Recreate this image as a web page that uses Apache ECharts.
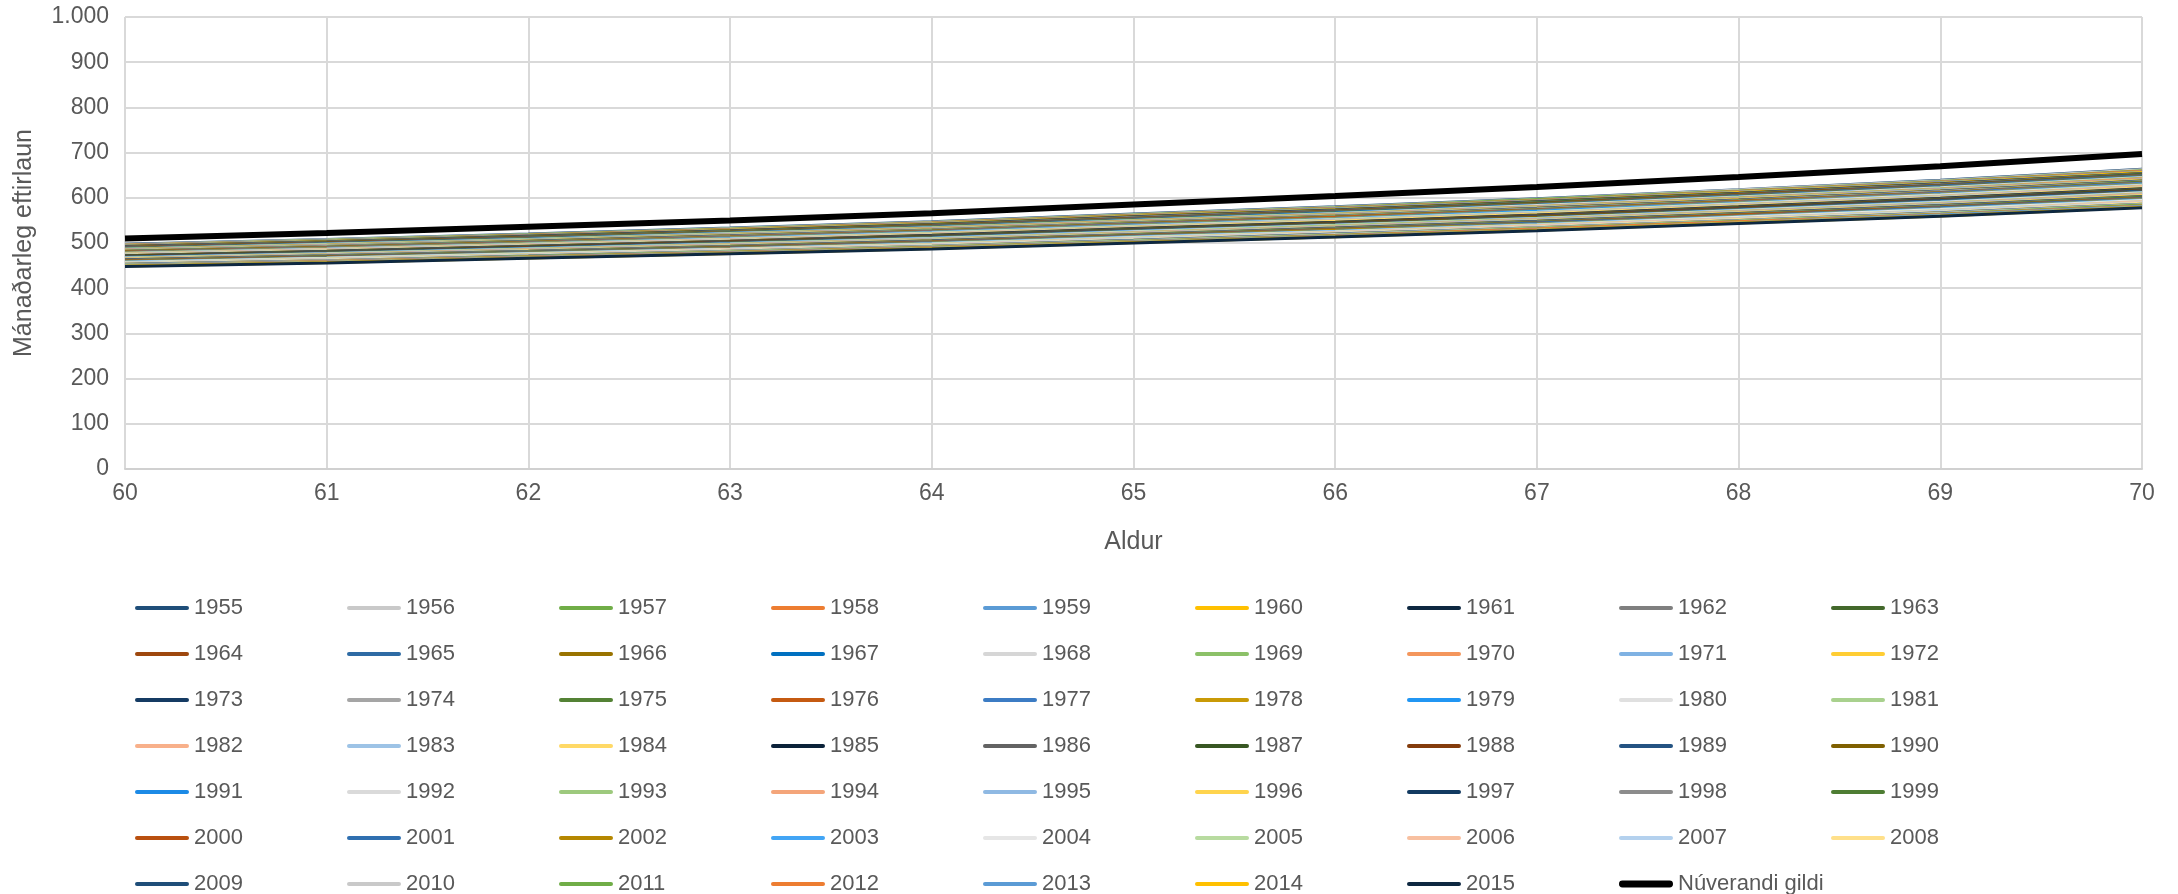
<!DOCTYPE html>
<html>
<head>
<meta charset="utf-8">
<script src="https://cdn.jsdelivr.net/npm/echarts@6/dist/echarts.min.js"></script>
<style>html,body{margin:0;padding:0;background:#fff;}#chart{width:2178px;height:894px;}</style>
</head>
<body>
<div id="chart"></div>
<script>
// Ages on the x axis
const ages = [60, 61, 62, 63, 64, 65, 66, 67, 68, 69, 70];
// Birth cohorts (series names)
const cohorts = [];
for (let y = 1955; y <= 2015; y++) cohorts.push(String(y));
// Values per age, one entry per cohort 1955..2015
const v60 = [497,496,495,495,494,493,492,491,490,490, 489,488,487,486,486,485,484,483,482,481, 481,480,479,478,477,477,476,475,474,473, 472,472,471,470,469,468,468,467,466,465, 464,464,463,462,461,460,459,459,458,457, 456,455,455,454,453,452,451,450,450,449,448];
const v61 = [508,507,506,505,505,504,503,502,501,500, 499,498,498,497,496,495,494,493,492,492, 491,490,489,488,487,486,485,485,484,483, 482,481,480,479,479,478,477,476,475,474, 473,472,472,471,470,469,468,467,466,466, 465,464,463,462,461,460,459,459,458,457,456];
const v62 = [520,519,518,517,516,515,515,514,513,512, 511,510,509,508,507,506,506,505,504,503, 502,501,500,499,498,497,497,496,495,494, 493,492,491,490,489,488,488,487,486,485, 484,483,482,481,480,479,479,478,477,476, 475,474,473,472,471,470,470,469,468,467,466];
const v63 = [533,532,531,530,529,528,527,526,525,524, 523,523,522,521,520,519,518,517,516,515, 514,513,512,511,510,509,508,507,506,505, 504,504,503,502,501,500,499,498,497,496, 495,494,493,492,491,490,489,488,487,486, 485,485,484,483,482,481,480,479,478,477,476];
const v64 = [547,546,545,544,543,542,541,540,539,538, 537,536,535,534,533,532,531,530,529,528, 527,526,525,524,523,522,521,520,519,518, 517,516,515,514,513,512,511,510,509,508, 507,506,505,504,503,502,501,500,499,498, 497,496,495,494,493,492,491,490,489,488,487];
const v65 = [564,563,562,561,560,559,558,557,555,554, 553,552,551,550,549,548,547,546,545,544, 543,542,541,539,538,537,536,535,534,533, 532,531,530,529,528,527,526,525,523,522, 521,520,519,518,517,516,515,514,513,512, 511,510,509,507,506,505,504,503,502,501,500];
const v66 = [580,579,578,577,576,574,573,572,571,570, 569,568,567,565,564,563,562,561,560,559, 558,557,555,554,553,552,551,550,549,548, 546,545,544,543,542,541,540,539,538,536, 535,534,533,532,531,530,529,528,526,525, 524,523,522,521,520,519,517,516,515,514,513];
const v67 = [598,597,596,594,593,592,591,590,589,587, 586,585,584,583,581,580,579,578,577,576, 574,573,572,571,570,568,567,566,565,564, 562,561,560,559,558,557,555,554,553,552, 551,549,548,547,546,545,544,542,541,540, 539,538,536,535,534,533,532,531,529,528,527];
const v68 = [618,617,615,614,613,612,610,609,608,607, 605,604,603,602,600,599,598,597,595,594, 593,592,590,589,588,587,585,584,583,582, 580,579,578,577,575,574,573,572,570,569, 568,567,565,564,563,562,560,559,558,557, 555,554,553,552,550,549,548,547,545,544,543];
const v69 = [639,638,636,635,634,632,631,630,628,627, 626,624,623,622,620,619,618,616,615,614, 612,611,610,608,607,606,604,603,602,600, 599,598,596,595,594,592,591,590,588,587, 586,584,583,582,580,579,578,576,575,574, 572,571,570,568,567,566,564,563,562,560,559];
const v70 = [663,662,660,659,657,656,654,653,652,650, 649,647,646,645,643,642,640,639,637,636, 635,633,632,630,629,628,626,625,623,622, 620,619,618,616,615,613,612,611,609,608, 606,605,603,602,601,599,598,596,595,594, 592,591,589,588,586,585,584,582,581,579,578];
// Current values (black line)
const currentName = 'Núverandi gildi';
const current = [510, 522, 536, 550, 566, 585, 604, 624, 646, 670, 697];
// Y tick values
const yTicks = [0, 100, 200, 300, 400, 500, 600, 700, 800, 900, 1000];

const byAge = [v60, v61, v62, v63, v64, v65, v66, v67, v68, v69, v70];

const palette = [
 '#1F4E79','#C9C9C9','#70AD47','#ED7D31','#5B9BD5','#FFC000',
 '#0E2841','#7F7F7F','#43682B','#9E480E','#2E6BA4','#997300',
 '#0070C0','#D6D6D6','#8CC168','#F4965C','#7FB2E3','#FFCD33',
 '#153B63','#A5A5A5','#548235','#C55A11','#3C7CC4','#C99A06',
 '#2196F3','#E0E0E0','#A9D18E','#F8B08A','#9DC3E6','#FFD966',
 '#0B2239','#636363','#385723','#843C0C','#245382','#7F6000',
 '#1C8AE6','#DADADA','#9DC97D','#F4A57A','#8FB9E3','#FFD44D',
 '#123A61','#8C8C8C','#4E7D33','#B9500F','#2F6FB0','#B58700',
 '#42A5F5','#E6E6E6','#B8DBA0','#F8C0A0','#B4D1EE','#FFE08A'];

const FONT = '"Liberation Sans", Arial, sans-serif';
const TXT = '#595959';

const series = cohorts.map((name, k) => ({
  name: name,
  type: 'line',
  data: ages.map((a, i) => [a, byAge[i][k]]),
  symbol: 'none',
  lineStyle: { width: 3, color: palette[k % palette.length] },
  itemStyle: { color: palette[k % palette.length] },
  animation: false,
  z: 2
}));
series.push({
  name: currentName,
  type: 'line',
  data: ages.map((a, i) => [a, current[i]]),
  symbol: 'none',
  lineStyle: { width: 6, color: '#000000' },
  itemStyle: { color: '#000000' },
  animation: false,
  z: 3
});

const legendData = series.map(s => ({
  name: s.name,
  icon: s.name === currentName ? 'path://M3,0 L51,0 A3.5,3.5 0 0 1 51,7 L3,7 A3.5,3.5 0 0 1 3,0 Z'
                               : 'path://M2,0 L52,0 A2,2 0 0 1 52,4 L2,4 A2,2 0 0 1 2,0 Z',
  itemStyle: { color: s.lineStyle.color }
}));

const chart = echarts.init(document.getElementById('chart'), null, { renderer: 'canvas' });
chart.setOption({
  backgroundColor: '#ffffff',
  animation: false,
  grid: { left: 125, right: 36, top: 17, bottom: 425, containLabel: false },
  xAxis: {
    type: 'value', min: 60, max: 70, interval: 1,
    name: 'Aldur', nameLocation: 'middle', nameGap: 61,
    nameTextStyle: { color: TXT, fontSize: 25, fontFamily: FONT },
    axisLine: { show: true, lineStyle: { color: '#D0D0D0', width: 2 } },
    axisTick: { show: false },
    axisLabel: { color: TXT, fontSize: 23, fontFamily: FONT, margin: 13 },
    splitLine: { show: true, lineStyle: { color: '#D9D9D9', width: 2 } }
  },
  yAxis: {
    type: 'value', min: yTicks[0], max: yTicks[yTicks.length - 1], interval: 100,
    name: 'Mánaðarleg eftirlaun', nameLocation: 'middle', nameGap: 88,
    nameTextStyle: { color: TXT, fontSize: 25, fontFamily: FONT },
    axisLine: { show: false },
    axisTick: { show: false },
    axisLabel: {
      color: TXT, fontSize: 23, fontFamily: FONT, margin: 16,
      formatter: v => String(v).replace(/\B(?=(\d{3})+(?!\d))/g, '.')
    },
    splitLine: { show: true, lineStyle: { color: '#D9D9D9', width: 2 } }
  },
  legend: {
    show: true,
    left: 130, top: 592, width: 1900,
    orient: 'horizontal',
    itemWidth: 54, itemHeight: 14, itemGap: 24,
    textStyle: { color: TXT, fontSize: 22, fontFamily: FONT, width: 129, lineHeight: 21 },
    data: legendData
  },
  series: series
});
</script>
</body>
</html>
